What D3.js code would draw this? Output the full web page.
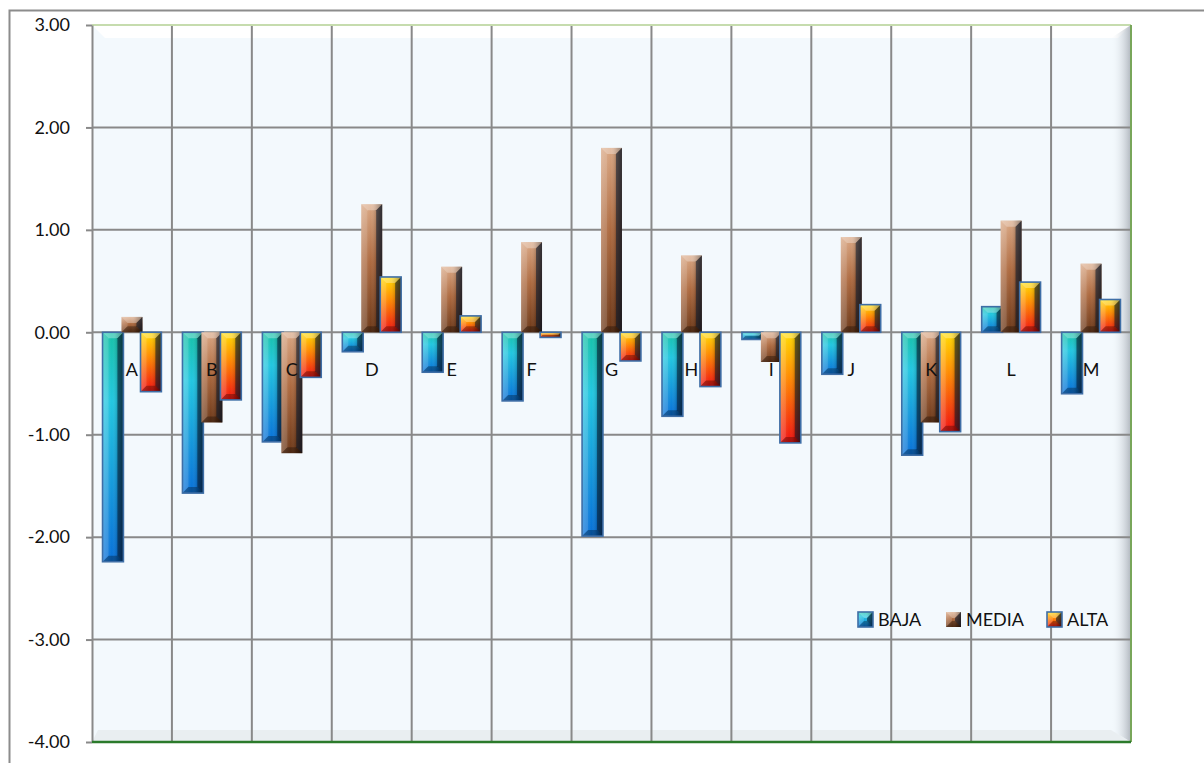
<!DOCTYPE html>
<html>
<head>
<meta charset="utf-8"/>
<script src="https://d3js.org/d3.v7.min.js"></script>
<style>
body{margin:0;background:#fff;}
svg text{font-family:Lato,"Open Sans",sans-serif;fill:#111;}
</style>
</head>
<body>
<div id="chart"></div>
<script>
var categories = ["A","B","C","D","E","F","G","H","I","J","K","L","M"];
var series = ["BAJA","MEDIA","ALTA"];
var baja  = [-2.24,-1.57,-1.07,-0.19,-0.39,-0.67,-1.99,-0.82,-0.07,-0.41,-1.20,0.25,-0.60];
var media = [0.15,-0.88,-1.18,1.25,0.64,0.88,1.80,0.75,-0.29,0.93,-0.88,1.09,0.67];
var alta  = [-0.58,-0.66,-0.44,0.54,0.16,-0.05,-0.28,-0.53,-1.08,0.27,-0.97,0.49,0.32];
var yTicks = [3,2,1,0,-1,-2,-3,-4];

var width = 1204, height = 763;
var pLeft = 92, pRight = 1131, pTop = 25, pBottom = 742;

var values = {BAJA: baja, MEDIA: media, ALTA: alta};

var svg = d3.select('#chart').append('svg')
	.attr('width', width)
	.attr('height', height);

var defs = svg.append('defs');
function grad(id, stops){
	var g = defs.append('linearGradient').attr('id', id)
		.attr('x1',0).attr('y1',0).attr('x2',0).attr('y2',1);
	stops.forEach(function(s){
		g.append('stop').attr('offset', s[0]).attr('stop-color', s[1]);
	});
}
grad('g-BAJA', [[0,'#17c2a8'],[0.3,'#22c6e0'],[1,'#0870d8']]);
grad('g-MEDIA', [[0,'#d9a682'],[0.45,'#ad6a40'],[1,'#6c3818']]);
grad('g-ALTA', [[0,'#ffdc00'],[0.4,'#ff8c00'],[1,'#f01010']]);
var side = defs.append('linearGradient').attr('id','side')
	.attr('x1',0).attr('y1',0).attr('x2',1).attr('y2',0);
side.append('stop').attr('offset',0).attr('stop-color','#fff').attr('stop-opacity',0.18);
side.append('stop').attr('offset',0.45).attr('stop-color','#fff').attr('stop-opacity',0);
side.append('stop').attr('offset',0.7).attr('stop-color','#000').attr('stop-opacity',0.15);
side.append('stop').attr('offset',1).attr('stop-color','#000').attr('stop-opacity',0.55);
var shade = defs.append('linearGradient').attr('id','shade')
	.attr('x1',0).attr('y1',0).attr('x2',1).attr('y2',0);
shade.append('stop').attr('offset',0).attr('stop-color','#f4f9fd').attr('stop-opacity',0);
shade.append('stop').attr('offset',1).attr('stop-color','#a8aeb6').attr('stop-opacity',0.9);

var strokes = {BAJA: '#3e6ea6', MEDIA: 'none', ALTA: '#3e6ea6'};

// outer chart frame
svg.append('rect')
	.attr('x', 9.5).attr('y', 10.5)
	.attr('width', 1300).attr('height', 900)
	.attr('fill', '#fff')
	.attr('stroke', '#8c8c8c')
	.attr('stroke-width', 2);

var y = d3.scaleLinear().domain([-4, 3]).range([pBottom, pTop]);
var x = d3.scaleBand().domain(categories).range([pLeft, pRight]).padding(0);
var x1 = d3.scaleBand().domain(series).range([0, x.bandwidth()])
	.paddingInner(-0.1).paddingOuter(0.555);

// plot area background with a bevelled frame
var plot = svg.append('g');
plot.append('rect')
	.attr('x', pLeft).attr('y', pTop)
	.attr('width', pRight - pLeft).attr('height', pBottom - pTop)
	.attr('fill', '#f3f9fd');
plot.append('polygon')
	.attr('points', [[pLeft,pTop],[pRight,pTop],[pRight-13,pTop+13],[pLeft+13,pTop+13]].join(' '))
	.attr('fill', '#ffffff');
plot.append('polygon')
	.attr('points', [[pRight,pTop],[pRight,pBottom],[pRight-20,pBottom-12],[pRight-20,pTop+13]].join(' '))
	.attr('fill', 'url(#shade)');
plot.append('polygon')
	.attr('points', [[pLeft,pBottom],[pRight,pBottom],[pRight-20,pBottom-12],[pLeft+6,pBottom-12]].join(' '))
	.attr('fill', '#e2e6ea').attr('opacity', 0.6);

// grid lines
plot.selectAll('line.h').data(yTicks.filter(function(d){ return d > -4 && d < 3; }))
	.enter().append('line')
	.attr('x1', pLeft).attr('x2', pRight)
	.attr('y1', function(d){ return y(d); }).attr('y2', function(d){ return y(d); })
	.attr('stroke', '#898989').attr('stroke-width', 2);
plot.selectAll('line.v').data(categories.slice(1))
	.enter().append('line')
	.attr('x1', function(d){ return x(d); }).attr('x2', function(d){ return x(d); })
	.attr('y1', pTop).attr('y2', pBottom)
	.attr('stroke', '#898989').attr('stroke-width', 2);

// plot border
svg.append('line').attr('x1', pLeft).attr('x2', pRight).attr('y1', pTop).attr('y2', pTop)
	.attr('stroke', '#c6dcae').attr('stroke-width', 2);
svg.append('line').attr('x1', pRight).attr('x2', pRight).attr('y1', pTop).attr('y2', pBottom)
	.attr('stroke', '#78a65a').attr('stroke-width', 2);

function bevelBar(g, bx, by, w, h, s){
	var b = Math.min(6, h / 2, w / 2);
	g.append('rect').attr('x', bx).attr('y', by).attr('width', w).attr('height', h)
		.attr('fill', 'url(#g-' + s + ')');
	g.append('rect').attr('x', bx).attr('y', by).attr('width', w).attr('height', h)
		.attr('fill', 'url(#side)');
	var x0 = bx, xr = bx + w, y0 = by, yb = by + h;
	g.append('polygon').attr('points', [[x0,y0],[xr,y0],[xr-b,y0+b],[x0+b,y0+b]].join(' '))
		.attr('fill', '#fff').attr('opacity', 0.3);
	g.append('polygon').attr('points', [[x0,y0],[x0+b,y0+b],[x0+b,yb-b],[x0,yb]].join(' '))
		.attr('fill', '#fff').attr('opacity', 0.12);
	g.append('polygon').attr('points', [[xr,y0],[xr,yb],[xr-b,yb-b],[xr-b,y0+b]].join(' '))
		.attr('fill', '#0a1a30').attr('opacity', 0.55);
	g.append('polygon').attr('points', [[x0,yb],[xr,yb],[xr-b,yb-b],[x0+b,yb-b]].join(' '))
		.attr('fill', '#000').attr('opacity', 0.3);
	if (strokes[s] !== 'none'){
		g.append('rect').attr('x', bx).attr('y', by).attr('width', w).attr('height', h)
			.attr('fill', 'none').attr('stroke', strokes[s]).attr('stroke-width', 1.6);
	}
}

var bars = svg.append('g');
series.forEach(function(s){
	values[s].forEach(function(v, i){
		var c = categories[i];
		var bx = x(c) + x1(s);
		var y0 = Math.min(y(v), y(0));
		var h = Math.abs(y(v) - y(0));
		bevelBar(bars, bx, y0, x1.bandwidth(), Math.max(h, 2), s);
	});
});

// category labels
svg.append('g').selectAll('text').data(categories).enter().append('text')
	.attr('x', function(d){ return x(d) + x.bandwidth() / 2; })
	.attr('y', y(0) + 44)
	.attr('text-anchor', 'middle')
	.style('font-size', '18px')
	.text(function(d){ return d; });

// y axis
var fmt = d3.format('.2f');
var yAxis = d3.axisLeft(y).tickValues(yTicks)
	.tickFormat(function(d){ return fmt(d).replace('\u2212', '-'); })
	.tickSize(6).tickSizeOuter(0).tickPadding(16);
var ya = svg.append('g').attr('transform', 'translate(' + pLeft + ',0)').call(yAxis);
ya.selectAll('path,line').attr('stroke', '#898989').attr('stroke-width', 2);
ya.selectAll('text').style('font-size', '18px').style('font-family', 'Lato,"Open Sans",sans-serif').attr('fill', '#111');

// bottom axis line
svg.append('line').attr('x1', pLeft).attr('x2', pRight).attr('y1', pBottom).attr('y2', pBottom)
	.attr('stroke', '#2b7a2b').attr('stroke-width', 2.5);

// legend
var legX = [858, 946, 1047];
var leg = svg.append('g');
series.forEach(function(s, i){
	bevelBar(leg, legX[i], 612, 15, 15, s);
	leg.append('text').attr('x', legX[i] + 20).attr('y', 626)
		.style('font-size', '18px').text(s);
});
</script>
</body>
</html>
